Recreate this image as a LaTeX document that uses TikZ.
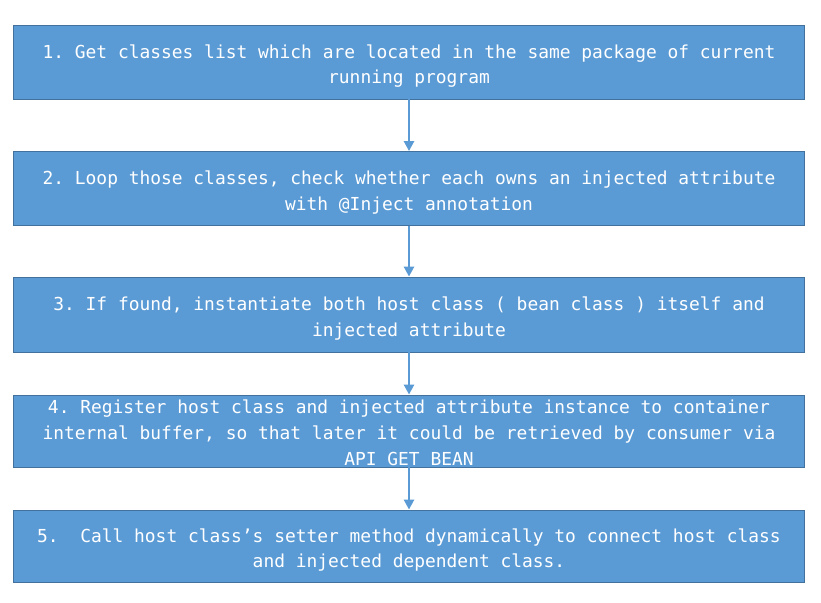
\documentclass[tikz,border=0pt]{standalone}
\usepackage{fontspec}
\newfontfamily\codefont{DejaVu Sans Mono}
\newcommand\monospc{\spaceskip=0.602em\relax\xspaceskip=0.602em\relax}
\usetikzlibrary{arrows.meta}
\definecolor{boxfill}{HTML}{5B9BD5}
\definecolor{boxline}{HTML}{41719C}
\begin{document}
\begin{tikzpicture}[x=1pt,y=-1pt,
  stepbox/.style={draw=boxline,line width=0.8pt,fill=boxfill,
    minimum width=791pt,inner sep=0pt},
  steptext/.style={text=white,text width=790pt,align=center,inner sep=0pt,yshift=-4pt,
    font=\codefont\fontsize{17.9}{25.8}\selectfont},
  conn/.style={draw=boxfill,line width=2.6pt,-{Triangle[length=10pt,width=10pt]}}]
\useasboundingbox (0,0) rectangle (821,602);
\node[stepbox,minimum height=74pt] (b1) at (409,62) {};
\node[stepbox,minimum height=74pt] (b2) at (409,188.5) {};
\node[stepbox,minimum height=75pt] (b3) at (409,314.5) {};
\node[stepbox,minimum height=72pt] (b4) at (409,431) {};
\node[stepbox,minimum height=72pt] (b5) at (409,546) {};
\node[steptext] (t1) at (b1.center) {\monospc 1. Get classes list which are located in the same package of current\\running program};
\node[steptext] (t2) at (b2.center) {\monospc 2. Loop those classes, check whether each owns an injected attribute\\with @Inject annotation};
\node[steptext] (t3) at (b3.center) {\monospc 3. If found, instantiate both host class ( bean class ) itself and\\injected attribute};
\node[steptext] (t4) at (b4.center) {\monospc 4. Register host class and injected attribute instance to container\\internal buffer, so that later it could be retrieved by consumer via\\API GET\_BEAN};
\node[steptext] (t5) at (b5.center) {\monospc 5.\ \ Call host class’s setter method dynamically to connect host class\\and injected dependent class.};
\draw[conn] (b1.south) -- (b2.north);
\draw[conn] (b2.south) -- (b3.north);
\draw[conn] (b3.south) -- (b4.north);
\draw[conn] (b4.south) -- (b5.north);
\end{tikzpicture}
\end{document}
